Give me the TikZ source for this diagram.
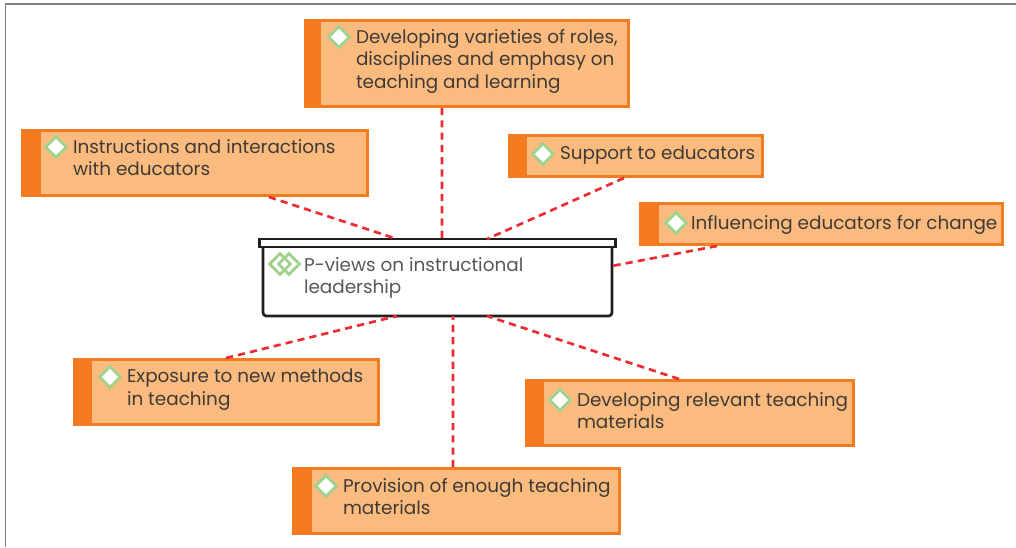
\documentclass[tikz,border=0pt]{standalone}
\usepackage{fontspec}
\setmainfont{Poppins}
\usetikzlibrary{calc,shapes.geometric}
\definecolor{bandc}{HTML}{F47B20}
\definecolor{fillc}{HTML}{FBBB7F}
\definecolor{inkc}{HTML}{3F3A36}
\definecolor{hubc}{HTML}{231F20}
\definecolor{linkc}{HTML}{EE2A32}
\definecolor{diac}{HTML}{A0D28E}
\definecolor{framec}{HTML}{808080}
\tikzset{
  x=0.75pt,y=-0.75pt,
  orangebox/.style={draw=none,fill=bandc,inner sep=0pt,outer sep=0pt},
  labeltext/.style={anchor=north west,inner sep=0pt,outer sep=0pt,text=inkc,align=left,font=\fontsize{13.8}{17.1}\selectfont},
  diamondmark/.style={diamond,draw=diac,fill=white,line width=2.2pt,inner sep=0pt,minimum width=16.5pt,minimum height=16.5pt,aspect=1},
  hubmark/.style={diamond,draw=diac,fill=none,line width=2.2pt,inner sep=0pt,minimum width=16.5pt,minimum height=16.5pt,aspect=1},
  link/.style={draw=linkc,line width=2pt,dash pattern=on 5.4pt off 3.8pt},
  frameline/.style={draw=framec,line width=0.9pt},
  hubline/.style={draw=hubc,line width=2pt}
}
\newcommand{\dshift}{17}
% #1 name, #2..#5 outer box x1,y1,x2,y2, #6 inner left x, #7 text x, #8 text y, #9 text
\newcommand{\ibox}[9]{%
  \node[orangebox,minimum width=#4*0.75pt-#2*0.75pt,minimum height=#5*0.75pt-#3*0.75pt] (#1) at ({(#2+#4)/2},{(#3+#5)/2}) {};
  \fill[fillc] (#6,#3+3) rectangle (#4-3,#5-3);
  \node[diamondmark] (#1d) at (#7-\dshift,#8+8) {};
  \node[labeltext] (#1t) at (#7,#8) {#9};
}
\begin{document}
\begin{tikzpicture}
\useasboundingbox (0,0) rectangle (1016,547);
\draw[frameline] (5.5,547) -- (5.5,4) -- (1016,4);

\ibox{top}{304}{19}{630}{108}{321}{356}{29}{Developing varieties of roles,\\disciplines and emphasy on\\teaching and learning}
\ibox{left}{21}{129}{369}{197}{41}{73}{139}{Instructions and interactions\\with educators}
\ibox{sup}{508}{134}{764}{178}{527}{560}{146}{Support to educators}
\renewcommand{\dshift}{15}
\ibox{inf}{639}{202}{1004}{246}{659}{691}{215}{Influencing educators for change}
\renewcommand{\dshift}{17}
\ibox{expo}{73}{358}{380}{426}{92}{127}{369}{Exposure to new methods\\in teaching}
\ibox{rel}{525}{379}{855}{447}{544}{577}{392}{Developing relevant teaching\\materials}
\ibox{prov}{292}{467}{621}{535}{312}{343}{478}{Provision of enough teaching\\materials}

% hub
\node[inner sep=0pt,outer sep=0pt,minimum width=349*0.75pt,minimum height=77*0.75pt] (hub) at (437.5,277.5) {};
\fill[white] (263,247) rectangle (612,316);
\draw[hubline,rounded corners=2.5pt] (263,247) -- (263,316) -- (612,316) -- (612,247);
\draw[hubline,fill=white] (259.5,239) rectangle (615.5,247);
\node[hubmark] (hubd2) at (289,264) {};
\node[hubmark] (hubd1) at (280,264) {};
\node[labeltext,text=inkc!85] (hubt) at (304,257) {P-views on instructional\\leadership};

% connectors
\draw[link] ($(top.south west)!0.4233!(top.south east)$) -- ($(hub.north west)!0.5129!(hub.north east)$);
\draw[link] ($(left.south west)!0.7126!(left.south east)$) -- ($(hub.north west)!0.3840!(hub.north east)$);
\draw[link] ($(sup.south west)!0.4531!(sup.south east)$) -- ($(hub.north west)!0.6418!(hub.north east)$);
\draw[link] ($(inf.south west)!0.2137!(inf.south east)$) -- ($(hub.north east)!0.35!(hub.south east)$);
\draw[link] ($(expo.north west)!0.4984!(expo.north east)$) -- ($(hub.south west)!0.3840!(hub.south east)$);
\draw[link] ($(rel.north west)!0.4667!(rel.north east)$) -- ($(hub.south west)!0.6418!(hub.south east)$);
\draw[link] ($(prov.north west)!0.4894!(prov.north east)$) -- ($(hub.south west)!0.5444!(hub.south east)$);
\end{tikzpicture}
\end{document}
